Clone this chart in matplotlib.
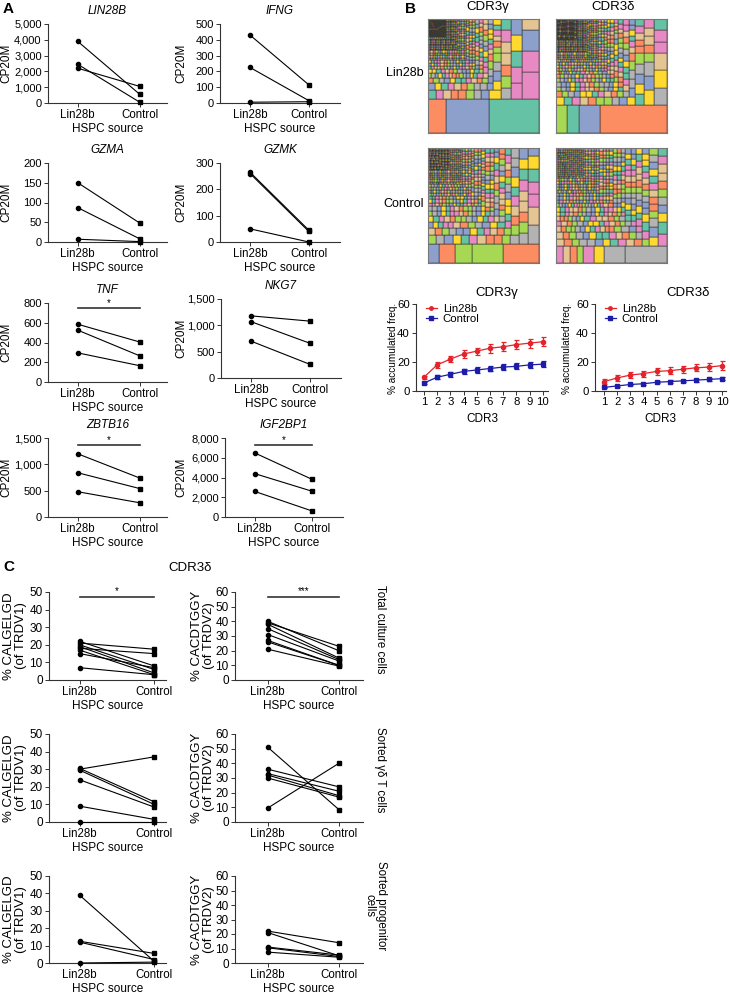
import numpy as np
import matplotlib
matplotlib.use("Agg")
import matplotlib.pyplot as plt
from matplotlib.patches import Rectangle
from matplotlib.collections import PatchCollection
from matplotlib.ticker import FuncFormatter
from matplotlib.lines import Line2D

plt.rcParams['font.family'] = ['Liberation Sans', 'DejaVu Sans']
plt.rcParams['font.size'] = 8.2

W, H = 730, 994
fig = plt.figure(figsize=(W / 100, H / 100), dpi=100)

groups = ["Lin28b", "Control"]

# ---------------- Panel A data ----------------
genes = ["LIN28B", "IFNG", "GZMA", "GZMK", "TNF", "NKG7", "ZBTB16", "IGF2BP1"]
a_lin28b = {
    "LIN28B": [3900, 2450, 2200],
    "IFNG": [430, 225, 5],
    "GZMA": [150, 87, 7],
    "GZMK": [265, 260, 50],
    "TNF": [585, 525, 295],
    "NKG7": [1180, 1070, 700],
    "ZBTB16": [1200, 840, 480],
    "IGF2BP1": [6500, 4400, 2600],
}
a_control = {
    "LIN28B": [550, 50, 1050],
    "IFNG": [115, 15, 8],
    "GZMA": [48, 8, 1],
    "GZMK": [45, 40, 0],
    "TNF": [405, 265, 165],
    "NKG7": [1080, 660, 260],
    "ZBTB16": [740, 540, 270],
    "IGF2BP1": [3800, 2600, 600],
}
a_ymax = {"LIN28B": 5000, "IFNG": 500, "GZMA": 200, "GZMK": 300,
          "TNF": 800, "NKG7": 1500, "ZBTB16": 1500, "IGF2BP1": 8000}
a_ystep = {"LIN28B": 1000, "IFNG": 100, "GZMA": 50, "GZMK": 100,
           "TNF": 200, "NKG7": 500, "ZBTB16": 500, "IGF2BP1": 2000}
a_sig = {"TNF": (750, "*"), "ZBTB16": (1370, "*"), "IGF2BP1": (7290, "*")}

# ---------------- Panel B data ----------------
cdr3_pos = [1, 2, 3, 4, 5, 6, 7, 8, 9, 10]
g_lin28b_mean = [9.5, 18, 22, 25.5, 27.5, 29.5, 30.5, 32, 33, 34]
g_lin28b_err = [1, 2, 2, 2.5, 2.5, 3, 3, 3, 3, 3]
g_control_mean = [5.5, 9.5, 11.5, 13.5, 14.5, 15.5, 16.5, 17, 18, 18.5]
g_control_err = [1, 1.5, 1.5, 1.5, 2, 2, 2, 2, 2, 2]
d_lin28b_mean = [6.5, 9, 11, 12, 13.5, 14, 15, 16, 16.5, 17.5]
d_lin28b_err = [1.5, 2, 2, 2, 2.5, 2.5, 2.5, 2.5, 2.5, 3]
d_control_mean = [2.5, 3.5, 4.5, 5, 6, 6.5, 7, 7.5, 8, 8.5]
d_control_err = [0.5, 0.6, 0.6, 0.7, 0.8, 0.8, 0.8, 1, 1, 1]

# treemap clone-size distributions (percent of repertoire, number of clones)
tm_lin_g_size = [12.0, 10.5, 4.3, 3.3, 2.5, 1.3, 0.8, 0.5, 0.3, 0.2, 0.12, 0.07, 0.04, 0.02, 0.008]
tm_lin_g_count = [1, 1, 1, 1, 2, 6, 8, 12, 20, 30, 50, 80, 120, 200, 300]
tm_lin_d_size = [13.0, 4.0, 2.2, 1.5, 1.0, 0.6, 0.4, 0.25, 0.15, 0.1, 0.06, 0.035, 0.02, 0.01]
tm_lin_d_count = [1, 1, 2, 3, 6, 10, 20, 30, 50, 70, 100, 150, 200, 300]
tm_ctl_g_size = [4.3, 3.8, 2.0, 1.3, 0.9, 0.6, 0.45, 0.3, 0.2, 0.13, 0.08, 0.05, 0.03, 0.015]
tm_ctl_g_count = [1, 1, 2, 3, 4, 10, 20, 30, 40, 60, 90, 120, 150, 200]
tm_ctl_d_size = [3.7, 1.8, 0.9, 0.6, 0.4, 0.3, 0.22, 0.15, 0.1, 0.06, 0.04, 0.02]
tm_ctl_d_count = [1, 1, 2, 6, 12, 25, 40, 60, 80, 120, 150, 200]

# ---------------- Panel C data ----------------
c_rows = ["Total culture cells", "Sorted γδ T cells", "Sorted progenitor\ncells"]
c_v1_lin28b = [[22, 21, 20, 19, 18, 17, 15, 7], [30, 30.5, 29.5, 24, 9, 0], [39, 12.5, 12, 0]]
c_v1_control = [[8, 17.5, 6, 4, 15, 3, 7, 3], [37, 11.5, 10, 8.5, 1.5, 0], [1, 5.5, 2, 0.5]]
c_v2_lin28b = [[40, 39, 38, 35, 31, 27, 26, 21], [51, 9.5, 36, 33, 32, 30], [22, 21, 11, 10.5, 7.5]]
c_v2_control = [[20, 23, 15, 14, 13, 10, 10, 9.5], [8.5, 40, 24, 21, 18, 17], [14, 5, 5.5, 4.5, 4]]
c_sig_v1 = [(47.2, "*"), None, None]
c_sig_v2 = [(56.6, "***"), None, None]

SET2 = ['#66c2a5', '#fc8d62', '#8da0cb', '#e78ac3', '#a6d854', '#ffd92f', '#e5c494', '#b3b3b3']
RED = '#e3242b'
BLUE = '#1c1ca8'


def px_axes(x0, y0, x1, y1):
    return fig.add_axes([x0 / W, 1 - y1 / H, (x1 - x0) / W, (y1 - y0) / H])


def style_axes(ax, fs=8.2):
    for s in ['top', 'right']:
        ax.spines[s].set_visible(False)
    for s in ['left', 'bottom']:
        ax.spines[s].set_linewidth(0.8)
        ax.spines[s].set_color('#333333')
    ax.tick_params(axis='both', length=3, width=0.7, pad=1.5, labelsize=fs, color='#333333')


def paired(ax, lin, ctl, ymax, ystep, xlim, comma=True, sig=None, fs=8.0):
    for a, b in zip(lin, ctl):
        ax.plot([0, 1], [a, b], color='black', lw=0.8, clip_on=False, zorder=3)
        ax.plot([0], [a], 'o', ms=3, color='black', clip_on=False, zorder=4)
        ax.plot([1], [b], 's', ms=3, color='black', clip_on=False, zorder=4)
    ax.set_xlim(*xlim)
    ax.set_ylim(0, ymax)
    ax.set_yticks(np.arange(0, ymax + ystep / 2, ystep))
    if comma:
        ax.yaxis.set_major_formatter(FuncFormatter(lambda v, p: f'{int(v):,}'))
    ax.set_xticks([0, 1])
    ax.set_xticklabels(groups)
    style_axes(ax, fs)
    ax.tick_params(axis='x', labelsize=8.3)
    ax.set_xlabel("HSPC source", fontsize=8.5, labelpad=1)
    if sig is not None:
        yb, star = sig
        ax.plot([0, 1], [yb, yb], color='#333333', lw=1.2, clip_on=False)
        ax.text(0.5, yb + ymax * 0.065, star, ha='center', va='center', fontsize=7)


# ---------------- Panel A ----------------
a_rects = {
    "LIN28B": (48, 24, 167, 103), "IFNG": (220, 24, 340, 103),
    "GZMA": (48, 163, 167, 242), "GZMK": (220, 163, 340, 242),
    "TNF": (48, 303, 167, 382), "NKG7": (221, 299, 341, 378),
    "ZBTB16": (48, 438, 167, 517), "IGF2BP1": (225, 438, 343, 517),
}
for g in genes:
    x0, y0, x1, y1 = a_rects[g]
    ax = px_axes(x0, y0, x1, y1)
    xl = (-0.48, 1.44) if x0 < 100 else (-0.51, 1.53)
    paired(ax, a_lin28b[g], a_control[g], a_ymax[g], a_ystep[g], xl, sig=a_sig.get(g))
    ax.set_title(g, fontstyle='italic', fontsize=8.5, pad=7)
    lx = 6 if x0 < 100 else 181
    fig.text(lx / W, 1 - ((y0 + y1) / 2) / H, "CP20M", rotation=90, ha='center', va='center', fontsize=8.5)

fig.text(3 / W, 1 - 9 / H, "A", fontsize=11, fontweight='bold', ha='left', va='center')


# ---------------- Panel B treemaps ----------------
def squarify(sizes, x, y, w, h):
    sizes = list(sizes)
    rects = []

    def worst(row, side):
        s = sum(row)
        return max(max(side * side * r / (s * s), s * s / (side * side * r)) for r in row)

    while sizes:
        side = min(w, h)
        row = [sizes[0]]
        i = 1
        while i < len(sizes) and worst(row + [sizes[i]], side) <= worst(row, side):
            row.append(sizes[i])
            i += 1
        s = sum(row)
        if w > h:
            cw = s / h
            yy = y
            for r in row:
                rh = r / cw
                rects.append((x, yy, cw, rh))
                yy += rh
            x += cw
            w -= cw
        else:
            rh = s / w
            xx = x
            for r in row:
                rw = r / rh
                rects.append((xx, y, rw, rh))
                xx += rw
            y += rh
            h -= rh
        sizes = sizes[i:]
    return rects


def treemap(ax, sizes, counts, top_colors):
    vals = np.repeat(np.array(sizes, float), counts)
    vals = np.sort(vals)[::-1]
    vals = vals / vals.sum()
    rects = squarify(vals, 0.0, 0.0, 1.0, 1.0)
    patches = []
    cols = []
    for i, (x, y, w, h) in enumerate(rects):
        patches.append(Rectangle((1 - x - w, y), w, h))
        if i < len(top_colors):
            cols.append(SET2[top_colors[i]])
        else:
            cols.append(SET2[(i * 5 + (i // 8) * 3) % 8])
    pc = PatchCollection(patches, facecolors=cols, edgecolors='#262626', linewidths=0.35)
    ax.add_collection(pc)
    ax.set_xlim(0, 1)
    ax.set_ylim(0, 1)
    ax.set_xticks([])
    ax.set_yticks([])
    for s in ax.spines.values():
        s.set_color('#777777')
        s.set_linewidth(0.8)


ax = px_axes(428, 19, 539, 133)
treemap(ax, tm_lin_g_size, tm_lin_g_count, [0, 2, 1, 3, 3, 2])
ax = px_axes(556, 19, 667, 133)
treemap(ax, tm_lin_d_size, tm_lin_d_count, [1, 2, 0, 4, 7, 5])
ax = px_axes(428, 148, 539, 263)
treemap(ax, tm_ctl_g_size, tm_ctl_g_count, [1, 4, 4, 1, 2, 7])
ax = px_axes(556, 148, 667, 263)
treemap(ax, tm_ctl_d_size, tm_ctl_d_count, [7, 7, 5, 3])

fig.text(488 / W, 1 - 7 / H, "CDR3γ", ha='center', va='center', fontsize=9.5)
fig.text(613 / W, 1 - 7 / H, "CDR3δ", ha='center', va='center', fontsize=9.5)
fig.text(424 / W, 1 - 73 / H, "Lin28b", ha='right', va='center', fontsize=9)
fig.text(424 / W, 1 - 204 / H, "Control", ha='right', va='center', fontsize=9)
fig.text(405 / W, 1 - 9 / H, "B", fontsize=11, fontweight='bold', ha='left', va='center')


# ---------------- Panel B line charts ----------------
def accum(ax, lm, le, cm, ce, xlim):
    ax.errorbar(cdr3_pos, lm, yerr=le, color=RED, marker='o', ms=3, lw=0.9,
                capsize=1.8, elinewidth=0.9, capthick=0.9, clip_on=False)
    ax.errorbar(cdr3_pos, cm, yerr=ce, color=BLUE, marker='s', ms=3, lw=0.9,
                capsize=1.8, elinewidth=0.9, capthick=0.9, clip_on=False)
    ax.set_xlim(*xlim)
    ax.set_ylim(0, 60)
    ax.set_yticks([0, 20, 40, 60])
    ax.set_xticks(cdr3_pos)
    style_axes(ax, 8.2)
    ax.set_xlabel("CDR3", fontsize=8.5, labelpad=4)
    handles = [Line2D([], [], color=RED, marker='o', ms=2.5, lw=0.9),
               Line2D([], [], color=BLUE, marker='s', ms=2.5, lw=0.9)]
    ax.legend(handles, groups, loc='upper left', bbox_to_anchor=(0.03, 1.06), frameon=False,
              fontsize=8.2, handlelength=1.0, handletextpad=0.5, labelspacing=0.0, borderpad=0)


ax = px_axes(416, 304, 548, 391)
accum(ax, g_lin28b_mean, g_lin28b_err, g_control_mean, g_control_err, (0.4, 10.4))
fig.text(497 / W, 1 - 293 / H, "CDR3γ", ha='center', va='center', fontsize=9.5)
fig.text(393 / W, 1 - 348 / H, "% accumulated freq.", rotation=90, ha='center', va='center', fontsize=7.2)

ax = px_axes(595, 304, 726, 391)
accum(ax, d_lin28b_mean, d_lin28b_err, d_control_mean, d_control_err, (0.3, 10.3))
fig.text(688 / W, 1 - 293 / H, "CDR3δ", ha='center', va='center', fontsize=9.5)
fig.text(567 / W, 1 - 348 / H, "% accumulated freq.", rotation=90, ha='center', va='center', fontsize=7.2)

# ---------------- Panel C ----------------
fig.text(3 / W, 1 - 567 / H, "C", fontsize=11, fontweight='bold', ha='left', va='center')
fig.text(190 / W, 1 - 568 / H, "CDR3δ", ha='center', va='center', fontsize=9.5)

c_y = [(592, 680), (734, 822), (876, 963)]
for r in range(3):
    y0, y1 = c_y[r]
    ax = px_axes(49, y0, 166, y1)
    paired(ax, c_v1_lin28b[r], c_v1_control[r], 50, 10, (-0.41, 1.16), comma=False,
           sig=c_sig_v1[r], fs=8.5)
    fig.text(15 / W, 1 - ((y0 + y1) / 2) / H, "% CALGELGD\n(of TRDV1)", rotation=90,
             ha='center', va='center', fontsize=9.5, linespacing=0.95)
    ax = px_axes(235, y0, 363, y1)
    paired(ax, c_v2_lin28b[r], c_v2_control[r], 60, 10, (-0.46, 1.34), comma=False,
           sig=c_sig_v2[r], fs=8.5)
    fig.text(203 / W, 1 - ((y0 + y1) / 2) / H, "% CACDTGGY\n(of TRDV2)", rotation=90,
             ha='center', va='center', fontsize=9.5, linespacing=0.95)

fig.text(380 / W, 1 - 629 / H, c_rows[0], rotation=-90, ha='center', va='center', fontsize=8.3)
fig.text(380 / W, 1 - 770 / H, c_rows[1], rotation=-90, ha='center', va='center', fontsize=8.3)
fig.text(375 / W, 1 - 906 / H, c_rows[2], rotation=-90, ha='center', va='center', fontsize=8.3,
         multialignment='center', linespacing=1.0)

fig.savefig("out.png", dpi=100)
